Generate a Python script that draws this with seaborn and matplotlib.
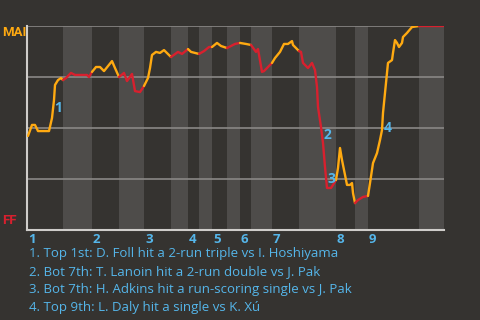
import matplotlib
matplotlib.use("Agg")
import matplotlib.pyplot as plt
import seaborn as sns
import pandas as pd

# ---- data (game progress units, win probability for MAI) ----
half_bounds = [0, 36, 65, 92, 117, 144, 161, 172, 185, 200, 213, 224, 245, 272, 309, 328, 341, 392, 417]
innings = ["1", "2", "3", "4", "5", "6", "7", "8", "9"]

progress = [1, 5, 8, 11, 22, 25, 27, 28, 31, 34, 36,
            39, 44, 48, 60, 62, 65,
            69, 73, 77, 85, 88, 92,
            97, 100, 105, 108, 113, 117,
            121, 123, 125, 129, 133, 137, 144,
            151, 155, 161,
            164, 172,
            177, 182, 185,
            190, 194, 200,
            204, 208, 213,
            219, 224,
            229, 231, 235, 237, 244, 245,
            248, 253, 257, 261, 265, 266, 272,
            274, 276, 281, 285, 288, 290, 291, 294, 296, 298, 300, 304, 306, 309,
            311, 313, 315, 318, 320, 323, 325, 326, 328,
            331, 336, 341,
            343, 346, 350, 353, 355, 356, 358, 360, 361, 365, 366, 368, 370, 372, 375, 376, 380, 385, 392,
            417]
wp_mai = [0.461, 0.515, 0.515, 0.485, 0.485, 0.549, 0.637, 0.711, 0.735, 0.745, 0.735,
          0.745, 0.770, 0.760, 0.760, 0.750, 0.775,
          0.799, 0.799, 0.779, 0.828, 0.794, 0.750,
          0.770, 0.730, 0.765, 0.681, 0.676, 0.706,
          0.745, 0.794, 0.858, 0.873, 0.868, 0.882, 0.848,
          0.873, 0.863, 0.887,
          0.873, 0.863,
          0.877, 0.897, 0.897,
          0.917, 0.902, 0.892,
          0.902, 0.912, 0.917,
          0.912, 0.907,
          0.873, 0.887, 0.775, 0.779, 0.814, 0.819,
          0.843, 0.873, 0.912, 0.912, 0.926, 0.907, 0.877,
          0.873, 0.819, 0.794, 0.819, 0.784, 0.701, 0.603, 0.505, 0.426, 0.309, 0.206, 0.206, 0.221, 0.245,
          0.304, 0.402, 0.343, 0.270, 0.221, 0.221, 0.230, 0.181, 0.132,
          0.147, 0.162, 0.167,
          0.230, 0.328, 0.377, 0.441, 0.490, 0.574, 0.672, 0.770, 0.819, 0.833, 0.868, 0.931, 0.917, 0.897, 0.917, 0.946, 0.966, 0.995, 1.0,
          1.0]

markers_lbl = ["1", "2", "3", "4"]
marker_x = [31, 300, 304, 361]
marker_y = [0.598, 0.466, 0.250, 0.500]

notes = ["1. Top 1st: D. Foll hit a 2-run triple vs I. Hoshiyama",
         "2. Bot 7th: T. Lanoin hit a 2-run double vs J. Pak",
         "3. Bot 7th: H. Adkins hit a run-scoring single vs J. Pak",
         "4. Top 9th: L. Daly hit a single vs K. Xú"]
team_top, team_bottom = "MAI", "FF"

# ---- style ----
BG = "#353330"
SHADE = "#4e4c4a"
GRID = "#8a8886"
SPINE = "#cfcdca"
ORANGE = "#ffaa11"
RED = "#d8202e"
BLUE = "#55b6ea"

sns.set_theme(style="dark")
plt.rcParams["font.family"] = ["Open Sans", "DejaVu Sans"]

fig = plt.figure(figsize=(4.8, 3.2), dpi=100, facecolor=BG)
ax = fig.add_axes([27/480, 90/320, 417/480, 204/320])
ax.set_facecolor(BG)

# bottom-half shading
for i in range(1, len(half_bounds) - 1, 2):
    ax.axvspan(half_bounds[i], half_bounds[i + 1], color=SHADE, lw=0, zorder=0)

for g in [0.25, 0.5, 0.75, 1.0]:
    ax.axhline(g, color=GRID, lw=1.2, zorder=1)

df = pd.DataFrame({"x": progress, "wp": wp_mai})
for h in range(len(half_bounds) - 1):
    lo, hi = half_bounds[h], half_bounds[h + 1]
    prev = df[df.x <= lo].tail(1)
    seg = pd.concat([prev, df[(df.x > lo) & (df.x <= hi)]])
    sns.lineplot(data=seg, x="x", y="wp", ax=ax, color=ORANGE if h % 2 == 0 else RED,
                 lw=1.7, sort=False, estimator=None, zorder=3)

ax.set_xlim(0, 417)
ax.set_ylim(0, 1)
ax.set_xlabel("")
ax.set_ylabel("")
ax.set_xticks([])
ax.set_yticks([])
for s in ["top", "right"]:
    ax.spines[s].set_visible(False)
for s in ["left", "bottom"]:
    ax.spines[s].set_visible(True)
    ax.spines[s].set_color(SPINE)
    ax.spines[s].set_linewidth(1.5)

# inning labels
for k, lab in enumerate(innings):
    ax.text(half_bounds[2 * k] + 1, -0.045, lab, transform=ax.get_xaxis_transform(),
            ha="left", va="center", color=BLUE, fontsize=9.5, fontweight="bold", clip_on=False)

for lab, mx, my in zip(markers_lbl, marker_x, marker_y):
    ax.text(mx, my, lab, ha="center", va="center", color=BLUE, fontsize=10, fontweight="bold", zorder=4)

fig.text(2/480, 1 - 33/320, team_top, color=ORANGE, fontsize=9.5, fontweight="bold",
         family=["Roboto", "DejaVu Sans"], ha="left", va="center", zorder=10)
fig.text(2/480, 1 - 220/320, team_bottom, color=RED, fontsize=9.5, fontweight="bold",
         family=["Roboto", "DejaVu Sans"], ha="left", va="center", zorder=10)

for i, n in enumerate(notes):
    fig.text(29/480, 1 - (254 + 18 * i)/320, n, color=BLUE, fontsize=9.5, ha="left", va="center")

fig.savefig("out.png", dpi=100, facecolor=BG)
